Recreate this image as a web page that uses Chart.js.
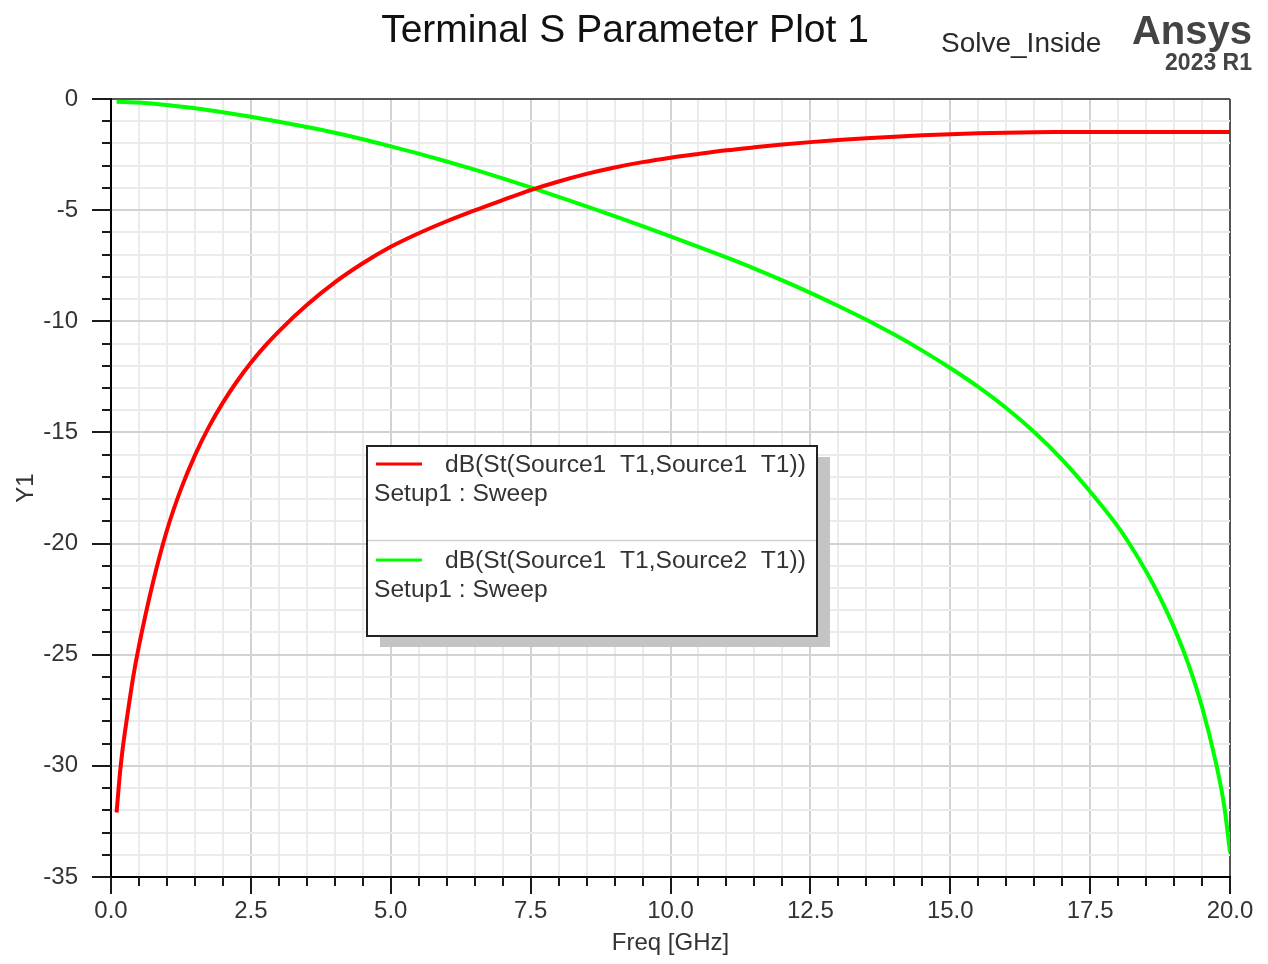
<!DOCTYPE html>
<html><head><meta charset="utf-8">
<script src="https://cdn.jsdelivr.net/npm/chart.js@4.4.1/dist/chart.umd.min.js"></script>
<style>html,body{margin:0;padding:0;background:#fff;overflow:hidden}#wrap{width:1268px;height:964px;position:relative}</style>
</head><body><div id="wrap"><canvas id="c" width="1268" height="964"></canvas></div>
<script>
const chartTitle = 'Terminal S Parameter Plot 1';
const solveLabel = 'Solve_Inside';
const brandName = 'Ansys';
const brandVersion = '2023 R1';
const xAxisTitle = 'Freq [GHz]';
const yAxisTitle = 'Y1';
const xMajorTicks = [0, 2.5, 5, 7.5, 10, 12.5, 15, 17.5, 20];
const yMajorTicks = [0, -5, -10, -15, -20, -25, -30, -35];
const s11Label = 'dB(St(Source1  T1,Source1  T1))';
const s21Label = 'dB(St(Source1  T1,Source2  T1))';
const sweepLabel = 'Setup1 : Sweep';

const s11Freq = [0.10,0.15,0.20,0.30,0.40,0.50,0.75,1.00,1.25,1.50,1.75,2.00,2.25,2.50,2.75,3.00,3.50,4.00,4.50,5.00,5.50,6.00,6.50,7.00,7.50,8.00,8.50,9.00,9.50,10.0,10.5,11.0,11.5,12.0,12.5,13.0,13.5,14.0,14.5,15.0,15.5,16.0,16.5,17.0,17.5,18.5,20.0];
const s11dB   = [-32.1,-30.6,-29.4,-27.6,-25.95,-24.6,-21.75,-19.4,-17.55,-16.03,-14.75,-13.66,-12.71,-11.87,-11.12,-10.45,-9.27,-8.25,-7.39,-6.65,-6.04,-5.50,-5.01,-4.55,-4.10,-3.71,-3.37,-3.08,-2.84,-2.64,-2.47,-2.31,-2.175,-2.05,-1.94,-1.845,-1.765,-1.695,-1.635,-1.585,-1.545,-1.515,-1.495,-1.485,-1.48,-1.48,-1.485];

const s21Freq = [0.10,0.50,1.00,1.50,2.00,2.50,3.00,3.50,4.00,4.50,5.00,5.50,6.00,6.50,7.00,7.50,8.00,8.50,9.00,9.50,10.0,10.5,11.0,11.5,12.0,12.5,13.0,13.5,14.0,14.5,15.0,15.5,16.0,16.5,17.0,17.5,18.0,18.25,18.5,18.75,19.0,19.25,19.5,19.75,19.9,20.0];
const s21dB   = [-0.12,-0.16,-0.27,-0.42,-0.60,-0.80,-1.02,-1.26,-1.52,-1.81,-2.13,-2.46,-2.81,-3.18,-3.57,-3.98,-4.40,-4.83,-5.27,-5.72,-6.18,-6.65,-7.13,-7.63,-8.16,-8.72,-9.31,-9.93,-10.60,-11.32,-12.10,-12.95,-13.90,-14.98,-16.22,-17.66,-19.25,-20.20,-21.25,-22.43,-23.78,-25.38,-27.35,-29.88,-31.86,-33.90];

const FONT = '"Liberation Sans", Arial, sans-serif';
const TXT = '#333333';

function isMajor(v, step){ const r = v/step; return Math.abs(r - Math.round(r)) < 1e-6; }

const decorPlugin = {
  id: 'decor',
  beforeDraw(chart){
    const ctx = chart.ctx;
    ctx.save(); ctx.fillStyle = '#ffffff'; ctx.fillRect(0,0,chart.width,chart.height); ctx.restore();
  },
  afterDraw(chart){
    const ctx = chart.ctx;
    const xs = chart.scales.x, ys = chart.scales.y;
    const a = chart.chartArea;
    ctx.save();
    // tick marks
    ctx.strokeStyle = '#1a1a1a'; ctx.lineWidth = 2;
    ys.ticks.forEach(t => {
      const p = Math.round(ys.getPixelForValue(t.value));
      const len = isMajor(t.value,5) ? 19 : 9;
      ctx.beginPath(); ctx.moveTo(a.left - len, p); ctx.lineTo(a.left, p); ctx.stroke();
    });
    xs.ticks.forEach(t => {
      const p = Math.round(xs.getPixelForValue(t.value));
      const len = isMajor(t.value,2.5) ? 17 : 9;
      ctx.beginPath(); ctx.moveTo(p, a.bottom); ctx.lineTo(p, a.bottom + len); ctx.stroke();
    });
    // header texts
    ctx.fillStyle = '#111111';
    ctx.textBaseline = 'alphabetic';
    ctx.textAlign = 'center';
    ctx.font = '39px ' + FONT;
    ctx.fillText(chartTitle, 625, 42);
    ctx.fillStyle = '#2a2a2a';
    ctx.textAlign = 'left';
    ctx.font = '28px ' + FONT;
    ctx.fillText(solveLabel, 941, 52);
    ctx.fillStyle = '#444444';
    ctx.textAlign = 'right';
    ctx.font = 'bold 40px ' + FONT;
    ctx.fillText(brandName, 1252, 44);
    ctx.font = 'bold 23px ' + FONT;
    ctx.fillText(brandVersion, 1252, 70);
    // legend
    const L = {x:367, y:446, w:450, h:190};
    ctx.fillStyle = '#c4c4c4';
    ctx.fillRect(L.x + 13, L.y + 11, L.w, L.h);
    ctx.fillStyle = '#ffffff';
    ctx.fillRect(L.x, L.y, L.w, L.h);
    ctx.strokeStyle = '#d0d0d0'; ctx.lineWidth = 1.5;
    ctx.beginPath(); ctx.moveTo(L.x, 540.5); ctx.lineTo(L.x + L.w, 540.5); ctx.stroke();
    ctx.strokeStyle = '#222222'; ctx.lineWidth = 2;
    ctx.strokeRect(L.x, L.y, L.w, L.h);
    const items = chart.data.datasets;
    items.forEach((ds, i) => {
      const y0 = 464 + i*96;
      ctx.strokeStyle = ds.borderColor; ctx.lineWidth = 3;
      ctx.beginPath(); ctx.moveTo(376, y0); ctx.lineTo(422, y0); ctx.stroke();
      ctx.fillStyle = TXT; ctx.textAlign = 'left'; ctx.textBaseline = 'middle';
      ctx.font = '24.6px ' + FONT;
      ctx.fillText(ds.label, 445, y0 + 1);
      ctx.fillText(sweepLabel, 374, y0 + 30);
    });
    ctx.restore();
  }
};

new Chart(document.getElementById('c'), {
  type: 'scatter',
  data: {
    datasets: [
      { label: s11Label, data: s11Freq.map((f,i)=>({x:f, y:s11dB[i]})), borderColor: '#ff0000', backgroundColor: '#ff0000',
        showLine: true, pointRadius: 0, borderWidth: 4, cubicInterpolationMode: 'monotone' },
      { label: s21Label, data: s21Freq.map((f,i)=>({x:f, y:s21dB[i]})), borderColor: '#00ff00', backgroundColor: '#00ff00',
        showLine: true, pointRadius: 0, borderWidth: 4, cubicInterpolationMode: 'monotone' }
    ]
  },
  options: {
    responsive: false, animation: false, devicePixelRatio: 1,
    layout: { padding: { top: 99, right: 38, left: 0, bottom: 0 } },
    plugins: { legend: { display: false }, title: { display: false }, tooltip: { enabled: false } },
    scales: {
      x: {
        type: 'linear', min: 0, max: 20,
        afterFit(s){ s.height = 87; s.paddingLeft = 0; s.paddingRight = 0; },
        border: { display: true, color: '#000000', width: 2 },
        grid: { drawTicks: false,
          color: c => (c.tick && Math.abs(c.tick.value - 20) < 1e-6) ? '#555555' : (c.tick && isMajor(c.tick.value, 2.5) ? '#d2d2d2' : '#ebebeb'),
          lineWidth: 2 },
        ticks: { stepSize: 0.5, autoSkip: false, maxRotation: 0, padding: 20, color: TXT, maxTicksLimit: 200,
          font: { family: FONT, size: 24 },
          callback: v => xMajorTicks.some(m => Math.abs(m - v) < 1e-6) ? Number(v).toFixed(1) : '' },
        title: { display: true, text: xAxisTitle, color: TXT, font: { family: FONT, size: 24 }, padding: { top: 0, bottom: 6 } }
      },
      y: {
        type: 'linear', min: -35, max: 0,
        afterFit(s){ s.width = 111; s.paddingTop = 0; s.paddingBottom = 0; },
        border: { display: true, color: '#000000', width: 2 },
        grid: { drawTicks: false,
          color: c => (c.tick && Math.abs(c.tick.value) < 1e-6) ? '#555555' : (c.tick && isMajor(c.tick.value, 5) ? '#d2d2d2' : '#ebebeb'),
          lineWidth: 2 },
        ticks: { stepSize: 1, autoSkip: false, padding: 33, color: TXT, maxTicksLimit: 200,
          font: { family: FONT, size: 24 },
          callback: v => yMajorTicks.some(m => Math.abs(m - v) < 1e-6) ? String(Math.round(v)) : '' },
        title: { display: true, text: yAxisTitle, color: TXT, font: { family: FONT, size: 24 }, padding: { top: 12, bottom: 0 } }
      }
    }
  },
  plugins: [decorPlugin]
});
</script></body></html>
